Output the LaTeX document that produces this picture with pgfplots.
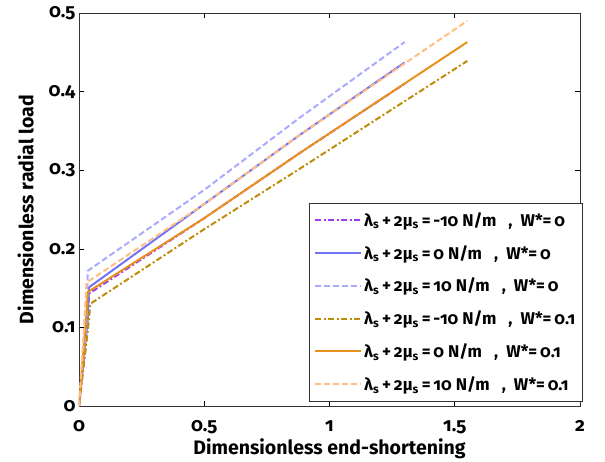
\documentclass[border=0pt]{standalone}
\usepackage{fontspec}
\setmainfont{Fira Sans}[Numbers=OldStyle]
\usepackage{pgfplots}
\pgfplotsset{compat=1.18}
\usetikzlibrary{calc}
\definecolor{cpurple}{RGB}{160,60,240}
\definecolor{cblue}{RGB}{115,115,245}
\definecolor{clblue}{RGB}{170,170,255}
\definecolor{colive}{RGB}{190,140,10}
\definecolor{corange}{RGB}{232,145,30}
\definecolor{clorange}{RGB}{255,190,130}
\newcommand{\leg}[2]{λ\textsubscript{s}\,+\,2μ\textsubscript{s}\,=\,#1 N/m\ \ \ ,\ \ W*=\,#2}
\pgfplotsset{
  mylegline/.style={legend image code/.code={\draw[##1] (0pt,0pt) -- (46pt,0pt);}},
}
\begin{document}
\begin{tikzpicture}
\begin{axis}[name=ax,
  width=501pt, height=393pt, scale only axis,
  xmin=0, xmax=2, ymin=0, ymax=0.5,
  xtick={0,0.5,1,1.5,2}, ytick={0,0.1,0.2,0.3,0.4,0.5},
  xticklabels={0,0.5,1,1.5,2},
  yticklabels={0,0.1,0.2,0.3,0.4,0.5},
  tick align=inside, major tick length=5pt,
  every tick/.style={black, line width=0.6pt},
  axis line style={line width=0.8pt, black!80},
  ticklabel style={font=\fontsize{19}{21}\selectfont\bfseries},
  xticklabel style={yshift=-11pt},
  /pgf/number format/assume math mode=true,
  xlabel={Dimensionless end-shortening},
  ylabel={Dimensionless radial load},
  label style={font=\fontsize{19.5}{22}\selectfont\bfseries},
  xlabel style={yshift=2pt},
  ylabel style={yshift=8pt},
  legend style={at={(1.005,0.012)}, anchor=south east, draw=black!80, line width=0.6pt,
    font=\fontsize{17}{19}\selectfont\bfseries, row sep=13.5pt,
    inner xsep=5pt, inner ysep=7pt},
  legend cell align=left,
  mylegline,
]
\addplot[cpurple, line width=2pt, dash pattern=on 6pt off 2.5pt on 2pt off 2.5pt] coordinates {
 (0,0) (0.035,0.10) (0.04,0.143) (0.5,0.239) (0.882,0.322) (1.3,0.410)};
\addlegendentry{\leg{-10}{0}}
\addplot[cblue, line width=2pt] coordinates {
 (0,0) (0.035,0.11) (0.04,0.151) (0.5,0.257) (0.882,0.345) (1.3,0.437)};
\addlegendentry{\leg{0}{0}}
\addplot[clblue, line width=2pt, dash pattern=on 6pt off 3pt] coordinates {
 (0,0) (0.03,0.10) (0.035,0.172) (0.5,0.275) (0.882,0.367) (1.3,0.463)};
\addlegendentry{\leg{10}{0}}
\addplot[colive, line width=2pt, dash pattern=on 6pt off 2.5pt on 2pt off 2.5pt] coordinates {
 (0,0) (0.04,0.11) (0.045,0.130) (0.5,0.225) (0.882,0.302) (1.55,0.439)};
\addlegendentry{\leg{-10}{0.1}}
\addplot[corange, line width=2pt] coordinates {
 (0,0) (0.03,0.12) (0.035,0.145) (0.5,0.239) (0.882,0.322) (1.55,0.463)};
\addlegendentry{\leg{0}{0.1}}
\addplot[clorange, line width=2pt, dash pattern=on 6pt off 3pt] coordinates {
 (0,0) (0.02,0.10) (0.03,0.157) (0.5,0.257) (0.882,0.345) (1.55,0.49)};
\addlegendentry{\leg{10}{0.1}}
\end{axis}
\pgfresetboundingbox
\path[use as bounding box] ($(ax.south west)+(-79pt,-55pt)$) rectangle ($(ax.north east)+(25pt,13pt)$);
\end{tikzpicture}
\end{document}
